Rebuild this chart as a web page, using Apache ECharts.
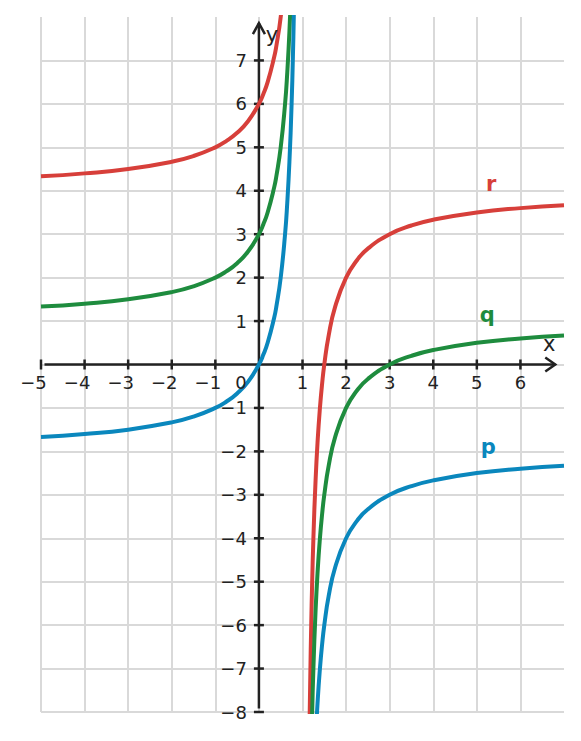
<!DOCTYPE html>
<html><head><meta charset="utf-8">
<script src="https://cdn.jsdelivr.net/npm/echarts@6/dist/echarts.min.js"></script>
<style>html,body{margin:0;padding:0;background:#fff}#c{width:581px;height:741px}</style>
</head><body><div id="c"></div>
<script>
// Left branch (x < 1)
const xLeft = [-5,-4,-3,-2,-1.5,-1,-0.75,-0.5,-0.25,0,0.1,0.2,0.35,0.4,0.5,0.6,0.65,0.7,0.75,0.78,0.8,0.82];
const pLeft = [-1.667,-1.6,-1.5,-1.333,-1.2,-1,-0.857,-0.667,-0.4,0,0.222,0.5,1.077,1.333,2,3,3.714,4.667,6,7.091,8,9.111];
const qLeft = [1.333,1.4,1.5,1.667,1.8,2,2.143,2.333,2.6,3,3.222,3.5,4.077,4.333,5,6,6.714,7.667,9,10.091,11,12.111];
const rLeft = [4.333,4.4,4.5,4.667,4.8,5,5.143,5.333,5.6,6,6.222,6.5,7.077,7.333,8,9,9.714,10.667,12,13.091,14,15.111];
// Right branch (x > 1)
const xRight = [1.1,1.15,1.18,1.2,1.22,1.25,1.3,1.35,1.4,1.45,1.5,1.6,1.75,2,2.25,2.5,3,3.5,4,5,6,7];
const pRight = [-22,-15.333,-13.111,-12,-11.091,-10,-8.667,-7.714,-7,-6.444,-6,-5.333,-4.667,-4,-3.6,-3.333,-3,-2.8,-2.667,-2.5,-2.4,-2.333];
const qRight = [-19,-12.333,-10.111,-9,-8.091,-7,-5.667,-4.714,-4,-3.444,-3,-2.333,-1.667,-1,-0.6,-0.333,0,0.2,0.333,0.5,0.6,0.667];
const rRight = [-16,-9.333,-7.111,-6,-5.091,-4,-2.667,-1.714,-1,-0.444,0,0.667,1.333,2,2.4,2.667,3,3.2,3.333,3.5,3.6,3.667];
// Tick labels
const xTickValues = [-5,-4,-3,-2,-1,1,2,3,4,5,6];
const xTickLabels = ['−5','−4','−3','−2','−1','1','2','3','4','5','6'];
const yTickValues = [7,6,5,4,3,2,1,-1,-2,-3,-4,-5,-6,-7,-8];
const yTickLabels = ['7','6','5','4','3','2','1','−1','−2','−3','−4','−5','−6','−7','−8'];
// Curve names and label anchors
const curveNames = ['r','q','p'];
const curveLabelAt = [[5.33,4.15],[5.24,1.13],[5.26,-1.89]];

const colors = {r:'#d73f3a', q:'#1e8c3e', p:'#0a87bd'};
const chart = echarts.init(document.getElementById('c'), null, {renderer:'svg'});
const zip = (xs, ys) => xs.map((x,i)=>[x, ys[i]]);
const branches = {r:[rLeft,rRight], q:[qLeft,qRight], p:[pLeft,pRight]};
const series = [];
curveNames.forEach(n => {
  [[xLeft, branches[n][0]], [xRight, branches[n][1]]].forEach(([xs, ys]) => {
    series.push({type:'line', data: zip(xs, ys), showSymbol:false, smooth:0.5,
      clip:true, lineStyle:{color:colors[n], width:4}, itemStyle:{color:colors[n]}, z:5});
  });
});
const gridLine = {show:true, showMinLine:true, showMaxLine:false, lineStyle:{color:'#d9d9d9', width:2}};
chart.setOption({
  animation:false,
  grid:{left:41, right:17, top:17, bottom:29},
  xAxis:{type:'value', min:-5, max:7, interval:1, axisLine:{show:false}, axisTick:{show:false}, axisLabel:{show:false}, splitLine:gridLine},
  yAxis:{type:'value', min:-8, max:8, interval:1, axisLine:{show:false}, axisTick:{show:false}, axisLabel:{show:false}, splitLine:gridLine},
  series
});

const P = (x,y) => chart.convertToPixel({gridIndex:0}, [x,y]);
const ink = '#222';
const font = '18px "DejaVu Sans", sans-serif';
const g = [];
const o = P(0,0);
// axes lines (under the curves)
const xs = P(-4.92,0), xe = P(6.8,0);
const ys = P(0,-7.92), ye = P(0,7.86);
g.push({type:'line', shape:{x1:xs[0],y1:o[1],x2:xe[0],y2:o[1]}, style:{stroke:ink, lineWidth:2.5}, z:1});
g.push({type:'line', shape:{x1:o[0],y1:ys[1],x2:o[0],y2:ye[1]}, style:{stroke:ink, lineWidth:2.5}, z:1});
g.push({type:'polyline', shape:{points:[[xe[0]-10,o[1]-7],[xe[0],o[1]],[xe[0]-10,o[1]+7]]}, style:{stroke:ink, lineWidth:2.5, fill:null}, z:1});
g.push({type:'polyline', shape:{points:[[o[0]-6,ye[1]+11],[o[0],ye[1]],[o[0]+6,ye[1]+11]]}, style:{stroke:ink, lineWidth:2.5, fill:null}, z:1});
// ticks and labels
xTickValues.forEach((v,i) => {
  const p = P(v,0);
  g.push({type:'line', shape:{x1:p[0],y1:p[1]-5,x2:p[0],y2:p[1]+5}, style:{stroke:ink, lineWidth:2.5}, z:1});
  const neg = v < 0;
  g.push({type:'text', x: neg ? p[0]+5.8 : p[0], y: p[1]+18, style:{text:xTickLabels[i], font, fill:ink, align: neg?'right':'center', verticalAlign:'middle'}, z:11});
});
yTickValues.forEach((v,i) => {
  const p = P(0,v);
  g.push({type:'line', shape:{x1:p[0]-5,y1:p[1],x2:p[0]+5,y2:p[1]}, style:{stroke:ink, lineWidth:2.5}, z:1});
  g.push({type:'text', x: p[0]-12, y: p[1], style:{text:yTickLabels[i], font, fill:ink, align:'right', verticalAlign:'middle'}, z:11});
});
g.push({type:'text', x:o[0]-18, y:o[1]+18, style:{text:'0', font, fill:ink, align:'center', verticalAlign:'middle'}, z:11});
const xl = P(6.66,0);
g.push({type:'text', x:xl[0], y:o[1]-21, style:{text:'x', font:'21px "DejaVu Sans", sans-serif', fill:ink, align:'center', verticalAlign:'middle'}, z:11});
const yl = P(0,7.58);
g.push({type:'text', x:o[0]+13, y:yl[1], style:{text:'y', font:'21px "DejaVu Sans", sans-serif', fill:ink, align:'center', verticalAlign:'middle'}, z:11});
curveNames.forEach((n,i) => {
  const p = P(curveLabelAt[i][0], curveLabelAt[i][1]);
  g.push({type:'text', x:p[0], y:p[1], style:{text:n, font:'bold 21px "DejaVu Sans", sans-serif', fill:colors[n], align:'center', verticalAlign:'middle'}, z:11});
});
chart.setOption({graphic:g});
</script></body></html>
